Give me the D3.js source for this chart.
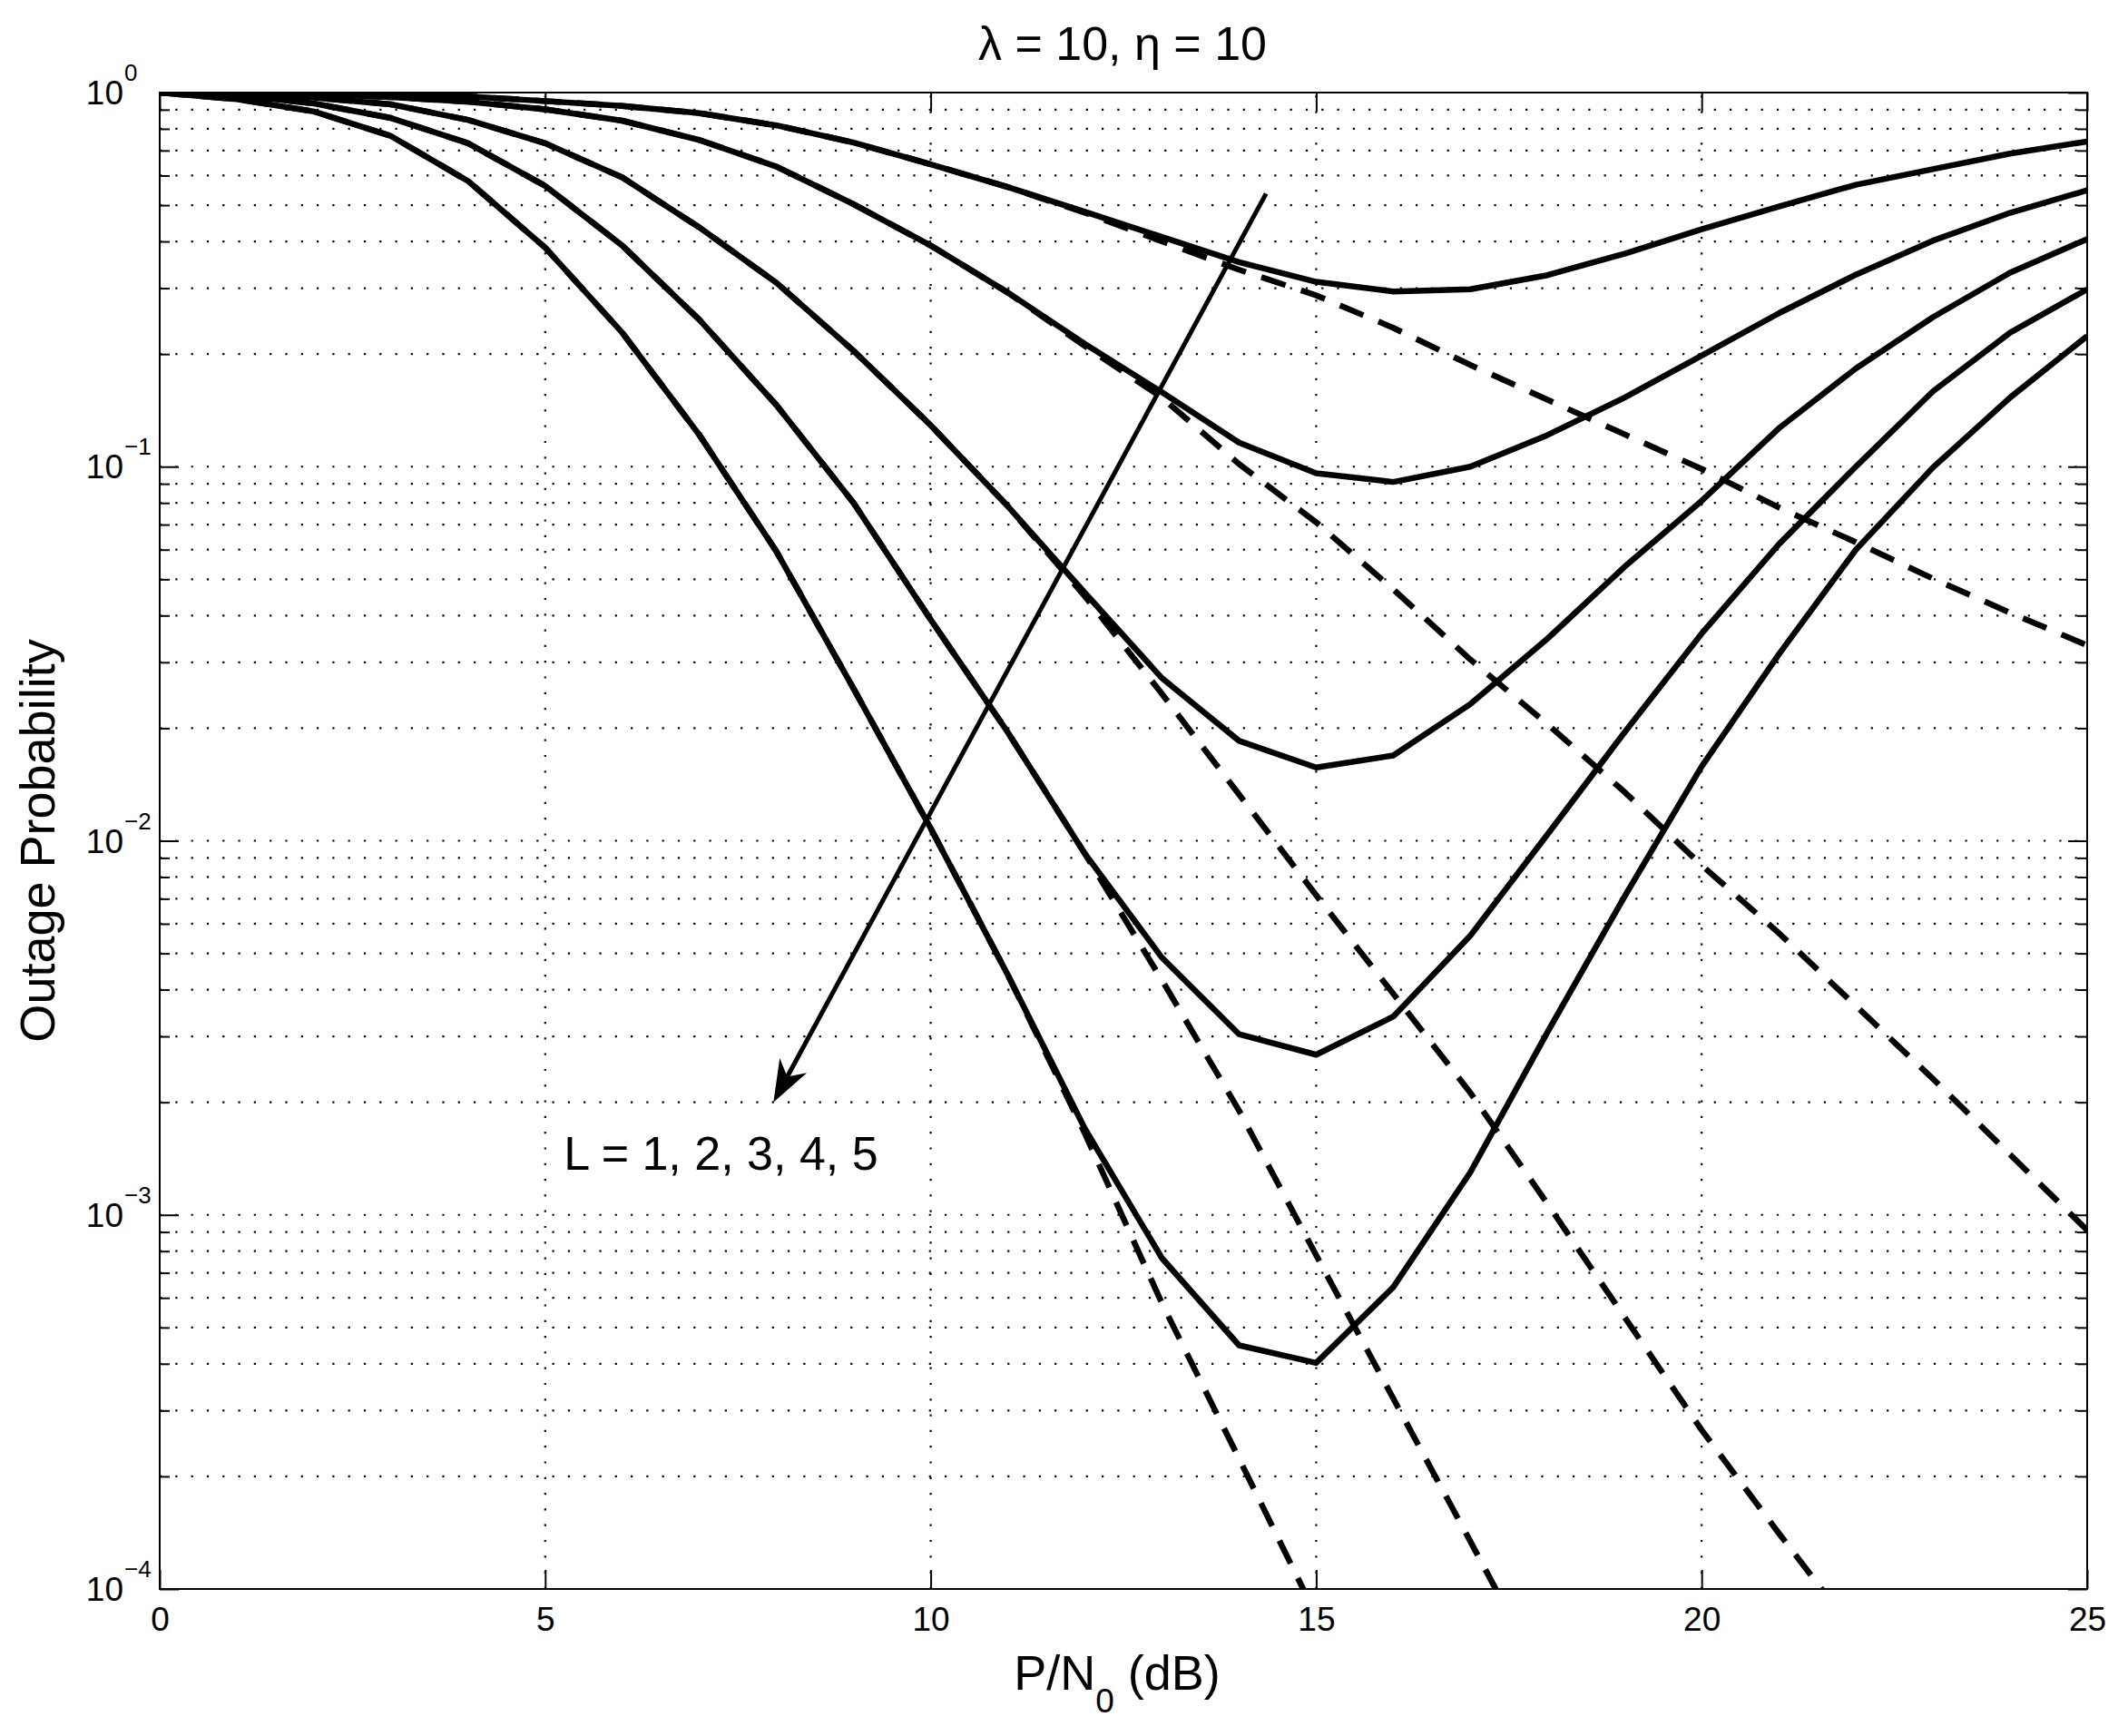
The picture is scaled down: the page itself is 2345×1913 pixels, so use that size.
<!DOCTYPE html>
<html><head><meta charset="utf-8">
<script src="https://cdn.jsdelivr.net/npm/d3@7"></script>
<style>
body{margin:0;background:#fff}
text{font-family:"Liberation Sans",Arial,Helvetica,sans-serif;fill:#000}
</style>
</head><body>
<svg id="chart" width="2345" height="1913"></svg>
<script>
// ---------- data ----------
const snrDb = [0,1,2,3,4,5,6,7,8,9,10,11,12,13,14,15,16,17,18,19,20,21,22,23,24,25];
const xTickValues = [0,5,10,15,20,25];
const yTickExponents = [0,-1,-2,-3,-4];
const minorMultipliers = [2,3,4,5,6,7,8,9];

const solidL1 = [1.0,0.999,0.997,0.99,0.977,0.949,0.921,0.881,0.817,0.735,0.643,0.559,0.48,0.411,0.352,0.312,0.294,0.298,0.325,0.371,0.431,0.496,0.567,0.624,0.687,0.74];
const solidL2 = [1.0,0.998,0.99,0.972,0.945,0.902,0.841,0.747,0.634,0.503,0.39,0.292,0.213,0.158,0.116,0.096,0.091,0.1,0.1215,0.153,0.198,0.257,0.326,0.402,0.477,0.548];
const solidL3 = [1.0,0.995,0.97,0.93,0.845,0.732,0.593,0.436,0.31,0.204,0.129,0.0784,0.046,0.0272,0.0185,0.0157,0.0169,0.0232,0.0347,0.054,0.081,0.1266,0.183,0.251,0.33,0.406];
const solidL4 = [1.0,0.985,0.935,0.855,0.732,0.563,0.39,0.247,0.146,0.08,0.039,0.0195,0.00924,0.00487,0.00304,0.00268,0.00339,0.00558,0.0104,0.0195,0.0358,0.062,0.1,0.159,0.228,0.298];
const solidL5 = [1.0,0.96,0.89,0.765,0.58,0.385,0.228,0.1215,0.0593,0.0255,0.0108,0.00438,0.0017,0.000766,0.000448,0.000402,0.000641,0.0013,0.00308,0.0071,0.0158,0.0315,0.06,0.0995,0.153,0.2234];

const dashedL1 = [1.0,0.999,0.997,0.99,0.977,0.949,0.921,0.881,0.817,0.735,0.643,0.559,0.477,0.40,0.336,0.287,0.235,0.187,0.151,0.122,0.0986,0.0778,0.0628,0.0502,0.0407,0.0333];
const dashedL2 = [1.0,0.998,0.99,0.972,0.945,0.902,0.841,0.747,0.634,0.503,0.39,0.292,0.21,0.153,0.1016,0.071,0.047,0.0305,0.0205,0.0135,0.0086,0.00567,0.00362,0.00231,0.00145,0.00091];
const dashedL3 = [1.0,0.995,0.97,0.93,0.845,0.732,0.593,0.436,0.31,0.204,0.129,0.0784,0.045,0.0247,0.0133,0.00715,0.0039,0.00212,0.00107,0.000533,0.000266,0.000141,0.000076];
const dashedL4 = [1.0,0.985,0.935,0.855,0.732,0.563,0.39,0.247,0.146,0.08,0.039,0.0195,0.00924,0.00424,0.0019,0.00078,0.000323,0.000134,0.000055];
const dashedL5 = [1.0,0.96,0.89,0.765,0.58,0.385,0.228,0.1215,0.0593,0.0255,0.0108,0.00438,0.00165,0.00058,0.000223,0.000085];

const titleText = "λ = 10, η = 10";
const yLabelText = "Outage Probability";
const annotationText = "L = 1, 2, 3, 4, 5";
// arrow annotation endpoints in data units [dB, probability]
const arrowStart = [14.35, 0.537];
const arrowEnd = [7.96, 0.002];
const annotationPos = [5.24, 0.00132];

// ---------- layout ----------
const plot = {left:176, right:2300, top:102, bottom:1751};
const svg = d3.select("#chart");
const x = d3.scaleLinear().domain([0,25]).range([plot.left, plot.right]);
const y = d3.scaleLog().domain([1e-4,1]).range([plot.bottom, plot.top]);

const majorY = yTickExponents.map(e => Math.pow(10,e));
const minorY = [];
yTickExponents.slice(1).forEach(e => minorMultipliers.forEach(k => minorY.push(k*Math.pow(10,e))));

// clip
svg.append("defs").append("clipPath").attr("id","plotClip")
  .append("rect").attr("x",plot.left).attr("y",plot.top)
  .attr("width",plot.right-plot.left).attr("height",plot.bottom-plot.top);

// ---------- grid ----------
const grid = svg.append("g").attr("stroke","#000").attr("stroke-width",2.2)
  .attr("stroke-dasharray","2.2,15.1").attr("fill","none");
const hGrid = majorY.filter(v => v<1 && v>1e-4).concat(minorY);
grid.selectAll("line.h").data(hGrid).join("line").attr("class","h")
  .attr("x1",plot.left).attr("x2",plot.right)
  .attr("y1",d=>y(d)).attr("y2",d=>y(d));
grid.selectAll("line.v").data(xTickValues.filter(v=>v>0&&v<25)).join("line").attr("class","v")
  .attr("y1",plot.bottom).attr("y2",plot.top)
  .attr("x1",d=>x(d)).attr("x2",d=>x(d));

// ---------- axes (ticks inward) ----------
function styleAxis(g){ g.select(".domain").remove(); g.selectAll("line").attr("stroke","#000").attr("stroke-width",2); }
svg.append("g").attr("transform",`translate(0,${plot.bottom})`)
  .call(d3.axisBottom(x).tickValues(xTickValues).tickSize(-21).tickPadding(20).tickFormat(d3.format("d")))
  .call(styleAxis)
  .call(g=>g.selectAll("text").attr("font-size",37).attr("fill","#000").style("font-family",'"Liberation Sans",Arial,sans-serif'));
svg.append("g").attr("transform",`translate(0,${plot.top})`)
  .call(d3.axisTop(x).tickValues(xTickValues).tickSize(-21).tickFormat(""))
  .call(styleAxis);
[["left",plot.left],["right",plot.right]].forEach(([side,pos])=>{
  const ax = side==="left"?d3.axisLeft:d3.axisRight;
  svg.append("g").attr("transform",`translate(${pos},0)`)
    .call(ax(y).tickValues(majorY).tickSize(-21).tickFormat(""))
    .call(styleAxis);
  svg.append("g").attr("transform",`translate(${pos},0)`)
    .call(ax(y).tickValues(minorY).tickSize(-11).tickFormat(""))
    .call(styleAxis);
});

// y tick labels 10^e
const yl = svg.append("g");
yTickExponents.forEach(e=>{
  const yy = y(Math.pow(10,e));
  yl.append("text").attr("x",136).attr("y",yy+13).attr("text-anchor","end")
    .attr("font-size",37).text("10");
  yl.append("text").attr("x",137).attr("y",yy-13).attr("text-anchor","start")
    .attr("font-size",26).text(e===0?"0":"\u2212"+Math.abs(e));
});

// box
svg.append("rect").attr("x",plot.left).attr("y",plot.top)
  .attr("width",plot.right-plot.left).attr("height",plot.bottom-plot.top)
  .attr("fill","none").attr("stroke","#000").attr("stroke-width",2);

// ---------- curves ----------
const line = d3.line().x((d,i)=>x(snrDb[i])).y(d=>y(d));
const curves = svg.append("g").attr("clip-path","url(#plotClip)").attr("fill","none")
  .attr("stroke","#000").attr("stroke-linejoin","round");
[dashedL1,dashedL2,dashedL3,dashedL4,dashedL5].forEach(s=>{
  curves.append("path").attr("d",line(s)).attr("stroke-width",6.5).attr("stroke-dasharray","28,18");
});
[solidL1,solidL2,solidL3,solidL4,solidL5].forEach(s=>{
  curves.append("path").attr("d",line(s)).attr("stroke-width",6.5);
});

// ---------- arrow annotation ----------
const ax0 = x(arrowStart[0]), ay0 = y(arrowStart[1]);
const ax1 = x(arrowEnd[0]), ay1 = y(arrowEnd[1]);
const dx = ax1-ax0, dy = ay1-ay0, len = Math.hypot(dx,dy);
const ux = dx/len, uy = dy/len, px = -uy, py = ux;
const headLen = 46, headHalf = 17, notch = 32;
svg.append("line").attr("x1",ax0).attr("y1",ay0)
  .attr("x2",ax1-ux*notch).attr("y2",ay1-uy*notch)
  .attr("stroke","#000").attr("stroke-width",5);
const head = [
  [ax1,ay1],
  [ax1-ux*headLen+px*headHalf, ay1-uy*headLen+py*headHalf],
  [ax1-ux*notch, ay1-uy*notch],
  [ax1-ux*headLen-px*headHalf, ay1-uy*headLen-py*headHalf]
];
svg.append("path").attr("d","M"+head.map(p=>p.join(",")).join("L")+"Z").attr("fill","#000");

svg.append("text").attr("x",x(annotationPos[0])).attr("y",y(annotationPos[1]))
  .attr("font-size",52).text(annotationText);

// ---------- titles ----------
svg.append("text").attr("x",1237).attr("y",66).attr("text-anchor","middle")
  .attr("font-size",52).text(titleText);

const xl = svg.append("text").attr("x",1231).attr("y",1862).attr("text-anchor","middle").attr("font-size",54);
xl.append("tspan").text("P/N");
xl.append("tspan").attr("dy",25).attr("font-size",37).text("0");
xl.append("tspan").attr("dy",-25).text(" (dB)");

svg.append("text").attr("transform",`translate(60,${(plot.top+plot.bottom)/2}) rotate(-90)`)
  .attr("text-anchor","middle").attr("font-size",54).text(yLabelText);
</script>
</body></html>
